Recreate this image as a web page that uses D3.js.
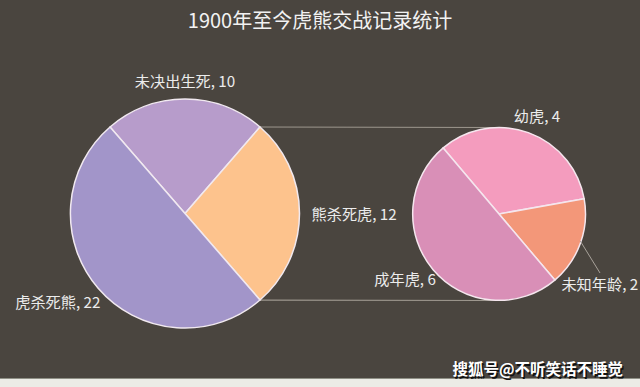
<!DOCTYPE html>
<html><head><meta charset="utf-8">
<script src="https://cdn.jsdelivr.net/npm/d3@7"></script>
<style>
html,body{margin:0;padding:0;background:#fff;}
svg{display:block;}
</style></head>
<body>
<script>
const title = "1900年至今虎熊交战记录统计";
const mainCategories = ["未决出生死", "熊杀死虎", "虎杀死熊"];
const mainValues = [10, 12, 22];
const mainColors = ["#b79ccb", "#fdc38d", "#a295c9"];
const subCategories = ["幼虎", "未知年龄", "成年虎"];
const subValues = [4, 2, 6];
const subColors = ["#f49cbe", "#f39779", "#d98fb7"];
const watermark = "搜狐号@不听笑话不睡觉";

const W = 640, H = 387;
const font = "'Noto Sans CJK SC','Noto Sans',sans-serif";
const svg = d3.select("body").append("svg").attr("width", W).attr("height", H);

svg.append("rect").attr("width", W).attr("height", H).attr("fill", "#ecebe6");
svg.append("rect").attr("width", W).attr("height", 378).attr("fill", "#4a453f");
svg.append("line").attr("x1",0).attr("x2",W).attr("y1",378.5).attr("y2",378.5).attr("stroke","#8f9086");

svg.append("text").attr("x", 320).attr("y", 28).attr("text-anchor","middle")
  .attr("font-family", font).attr("font-size", 20).attr("fill", "#f2f2f2").text(title);

const deg = Math.PI/180;
const startA = -40.9*deg;

// main pie
const mc = [185, 213.5], mr = 114.5;
const mainPie = d3.pie().sort(null).startAngle(startA).endAngle(startA + 2*Math.PI)(mainValues);
// secondary pie
const sc = [499, 214], sr = 86.5;
const subPie = d3.pie().sort(null).startAngle(-40.2*deg).endAngle(-40.2*deg + 2*Math.PI)(subValues);

// connector lines (behind pies)
const other = mainPie[1];
const pt = (c, r, a) => [c[0] + r*Math.sin(a), c[1] - r*Math.cos(a)];
const p1 = pt(mc, mr, other.startAngle), p2 = pt(mc, mr, other.endAngle);
svg.append("line").attr("x1", p1[0]).attr("y1", p1[1]).attr("x2", sc[0]).attr("y2", sc[1]-sr)
  .attr("stroke", "#9d978e").attr("stroke-width", 1.2);
svg.append("line").attr("x1", p2[0]).attr("y1", p2[1]).attr("x2", sc[0]).attr("y2", sc[1]+sr)
  .attr("stroke", "#9d978e").attr("stroke-width", 1.2);

const mArc = d3.arc().innerRadius(0).outerRadius(mr);
const gM = svg.append("g").attr("transform", `translate(${mc})`);
gM.selectAll("path").data(mainPie).join("path")
  .attr("d", mArc).attr("fill", (d,i) => mainColors[i])
  .attr("stroke", "#f1e9f0").attr("stroke-width", 1.5).attr("stroke-linejoin","round");

const sArc = d3.arc().innerRadius(0).outerRadius(sr);
const gS = svg.append("g").attr("transform", `translate(${sc})`);
gS.selectAll("path").data(subPie).join("path")
  .attr("d", sArc).attr("fill", (d,i) => subColors[i])
  .attr("stroke", "#f5e6ee").attr("stroke-width", 1.5).attr("stroke-linejoin","round");

// labels
const mid = d => (d.startAngle + d.endAngle)/2;
const labelStyle = sel => sel.attr("font-family", font).attr("font-size", 15.2).attr("fill", "#ececec");

// main labels: [radius offset, anchor, dx, dy]
const mainLabelCfg = [[18, "middle", 0, 6], [12, "start", 0, 6], [8, "end", 8, 14]];
mainPie.forEach((d,i) => {
  const [off, anchor, dx, dy] = mainLabelCfg[i];
  const p = pt([0,0], mr + off, mid(d));
  gM.append("text").call(labelStyle).attr("x", p[0]+dx).attr("y", p[1]+dy)
    .attr("text-anchor", anchor).text(`${mainCategories[i]}, ${mainValues[i]}`);
});

const subLabelCfg = [[20, "middle", 2, 8], [0, "start", -19, 47], [4, "end", 6, 13]];
subPie.forEach((d,i) => {
  const [off, anchor, dx, dy] = subLabelCfg[i];
  const p = pt([0,0], sr + off, mid(d));
  gS.append("text").call(labelStyle).attr("x", p[0]+dx).attr("y", p[1]+dy)
    .attr("text-anchor", anchor).text(`${subCategories[i]}, ${subValues[i]}`);
  if (i === 1) {
    const a = pt([0,0], sr - 1, mid(d) - 1.5*deg);
    gS.append("line").attr("x1", a[0]).attr("y1", a[1]).attr("x2", 101).attr("y2", 59)
      .attr("stroke", "#a8a29a").attr("stroke-width", 1);
  }
});

// watermark
const wm = svg.append("text").attr("x", 623).attr("y", 375).attr("text-anchor","end")
  .attr("font-family", font).attr("font-size", 15.5).attr("font-weight", "bold");
svg.insert("text", () => wm.node()).attr("x", 624.5).attr("y", 376.5).attr("text-anchor","end")
  .attr("font-family", font).attr("font-size", 15.5).attr("font-weight", "bold")
  .attr("fill", "#111").text(watermark);
wm.attr("fill", "#ffffff").text(watermark);
</script>
</body></html>
